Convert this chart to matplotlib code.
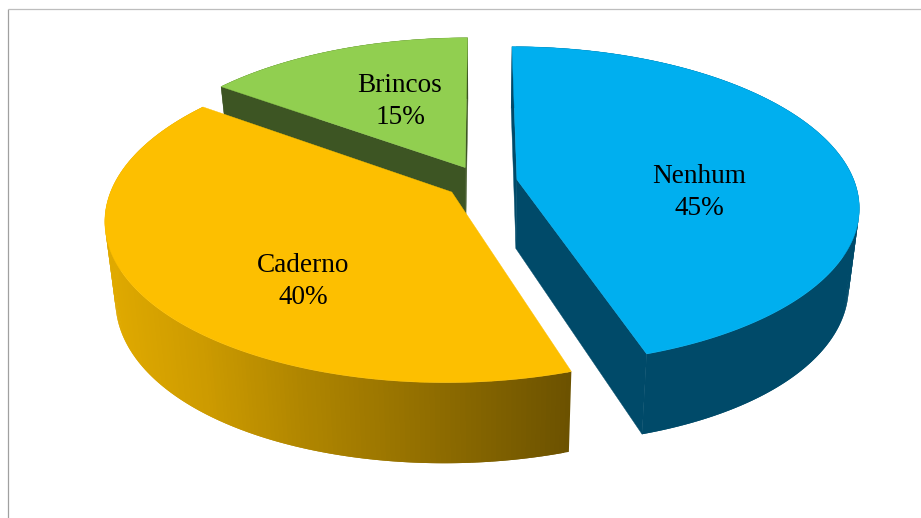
import matplotlib
matplotlib.use('Agg')
import matplotlib.pyplot as plt
from matplotlib.patches import Polygon
import numpy as np

names = ['Nenhum', 'Caderno', 'Brincos']
values = [45, 40, 15]
top_colors = ['#00AFEF', '#FDBF00', '#91CF50']
wall_colors = ['#004A69', None, '#3D5523']
label_xy = [(699, 192.5), (303, 281.5), (400, 101.5)]

# camera setup, everything in pixels
W, H = 921, 518
vx, vy = 482, -763
y0 = 190
k = 0.166
A = 340.5
explode = 0.107
center = (-0.002, 0.05)

# side colours of the shaded slice, from left to right
shade_x = [105, 200, 300, 400, 500, 570]
shade_r = [224, 205, 176, 152, 126, 108]
shade_g = [170, 155, 134, 115, 96, 82]


def project(x, y):
    w = 1 + k * y
    return vx + A * x / w, vy + (y0 - vy) / w


def drop(sx, sy):
    # same point on the underside of the pie
    dx = sx - vx
    return sx - 0.028 * dx, sy + 69 + 0.057 * (sy - 180) + 0.00005 * dx ** 2


def outline(a0, a1, n=200):
    mid = np.radians((a0 + a1) / 2)
    cx = center[0] + explode * np.sin(mid)
    cy = center[1] + explode * np.cos(mid)
    t = np.radians(np.linspace(a0, a1, n))
    ax_, ay_ = project(cx, cy)
    sx, sy = project(cx + np.sin(t), cy + np.cos(t))
    return (ax_, ay_), sx, sy


fig = plt.figure(figsize=(W / 100, H / 100), dpi=100)
ax = fig.add_axes([0, 0, 1, 1])
ax.set_xlim(0, W)
ax.set_ylim(H, 0)
ax.axis('off')

ax.plot([8, 8], [9, H], color='#A0A0A0', lw=0.9, solid_capstyle='butt')
ax.plot([8, W], [9, 9], color='#BDBDBD', lw=0.9, solid_capstyle='butt')

# start and end angle of each slice, clockwise from the top
ends = np.cumsum(values) / np.sum(values) * 360
starts = np.concatenate([[0], ends[:-1]])

# back slice first, then the two front ones
for i in [2, 0, 1]:
    apex, sx, sy = outline(starts[i], ends[i])
    bx, by = drop(sx, sy)
    abx, aby = drop(*apex)
    if wall_colors[i] is not None:
        for p in [0, -1]:
            face = [apex, (sx[p], sy[p]), (bx[p], by[p]), (abx, aby)]
            ax.add_patch(Polygon(face, fc=wall_colors[i], ec=wall_colors[i], lw=0.3))
    # the round side is cut in strips, each one overlaps the next so no seams show
    for j in range(len(sx) - 1):
        e = min(j + 2, len(sx) - 1)
        if wall_colors[i] is not None:
            c = wall_colors[i]
        else:
            xm = (sx[j] + sx[j + 1]) / 2
            c = (np.interp(xm, shade_x, shade_r) / 255, np.interp(xm, shade_x, shade_g) / 255, 0)
        strip = [(sx[j], sy[j]), (sx[e], sy[e]), (bx[e], by[e]), (bx[j], by[j])]
        ax.add_patch(Polygon(strip, fc=c, ec='none', lw=0))
    top = np.column_stack([np.r_[apex[0], sx], np.r_[apex[1], sy]])
    ax.add_patch(Polygon(top, fc=top_colors[i], ec=top_colors[i], lw=0.3))

for name, v, (tx, ty) in zip(names, values, label_xy):
    ax.text(tx, ty, f'{name}\n{v}%', ha='center', va='center', color='black',
            family='Liberation Serif', fontsize=19.6, linespacing=1.33)

fig.savefig('out.png', dpi=100, facecolor='white')
